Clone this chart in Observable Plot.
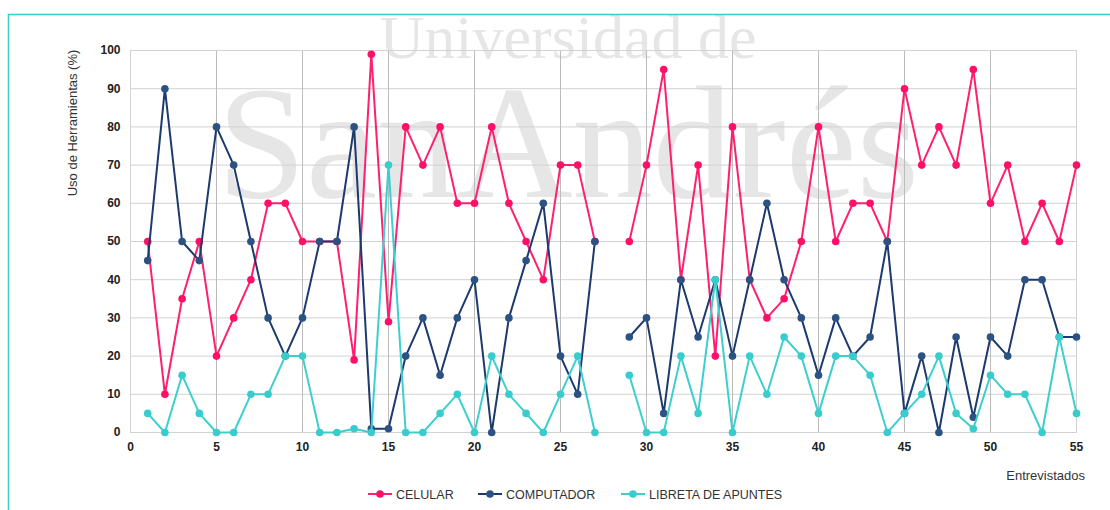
<!DOCTYPE html>
<html>
<head>
<meta charset="utf-8">
<script src="https://cdn.jsdelivr.net/npm/d3@7"></script>
<script src="https://cdn.jsdelivr.net/npm/@observablehq/plot@0.6"></script>
<style>
  html, body { margin: 0; padding: 0; background: #fff; }
  #chart { width: 1110px; height: 510px; overflow: hidden; }
</style>
</head>
<body>
<div id="chart"></div>
<script>
// Entrevistados 1..55 (entrevistado 28 sin datos)
const entrevistados = d3.range(1, 56);
const celular = [50,10,35,50,20,30,40,60,60,50, 50,50,19,99,29,80,70,80,60,60, 80,60,50,40,70,70,50,null,50,70, 95,40,70,20,80,40,30,35,50,80, 50,60,60,50,90,70,80,70,95,60, 70,50,60,50,70];
const computador = [45,90,50,45,80,70,50,30,20,30, 50,50,80,1,1,20,30,15,30,40, 0,30,45,60,20,10,50,null,25,30, 5,40,25,40,20,40,60,40,30,15, 30,20,25,50,5,20,0,25,4,25, 20,40,40,25,25];
const libreta = [5,0,15,5,0,0,10,10,20,20, 0,0,1,0,70,0,0,5,10,0, 20,10,5,0,10,20,0,null,15,0, 0,20,5,40,0,20,10,25,20,5, 20,20,15,0,5,10,20,5,1,15, 10,10,0,25,5];
const seriesNames = ["CELULAR", "COMPUTADOR", "LIBRETA DE APUNTES"];
const seriesValues = [celular, computador, libreta];
const yTicks = d3.range(0, 101, 10);
const xTicks = d3.range(0, 56, 5);

const lineColors = ["#ff1f6e", "#1c3a6e", "#3dcfcf"];
const dotColors  = ["#ff1068", "#2b5282", "#38cccc"];

const rows = seriesNames.map((name, s) =>
  entrevistados.map((x, i) => ({serie: name, x, y: seriesValues[s][i]}))
);

const W = 1110, H = 510;
const marks = [
  Plot.gridY(yTicks, {stroke: "#d2d2d2", strokeOpacity: 1, strokeWidth: 1}),
  Plot.gridX(xTicks, {stroke: "#bcbcbc", strokeOpacity: 1, strokeWidth: 1}),
  Plot.frame({stroke: "#d2d2d2", strokeWidth: 1}),
  Plot.axisY(yTicks, {tickSize: 0, tickPadding: 10, fontWeight: "bold", fontSize: 12, fill: "#222", label: null}),
  Plot.axisX(xTicks, {tickSize: 0, tickPadding: 10, fontWeight: "bold", fontSize: 12, fill: "#222", label: null})
];
rows.forEach((data, s) => {
  marks.push(Plot.line(data, {x: "x", y: "y", stroke: lineColors[s], strokeWidth: 2}));
  marks.push(Plot.dot(data.filter(d => d.y != null), {x: "x", y: "y", r: 3.8, fill: dotColors[s], stroke: "none"}));
});

const plot = Plot.plot({
  width: W,
  height: H,
  marginLeft: 130,
  marginRight: 34,
  marginTop: 50,
  marginBottom: 78,
  x: {domain: [0, 55]},
  y: {domain: [0, 100]},
  style: {fontFamily: "'Liberation Sans', Arial, sans-serif", fontSize: "12px", background: "#fff", overflow: "visible"},
  marks
});

const svg = d3.select(plot);

// watermark (behind everything)
const wm = svg.insert("g", ":first-child").attr("font-family", "'Liberation Serif', 'DejaVu Serif', serif").attr("fill", "#e6e6e6").attr("text-anchor", "middle");
wm.append("text").attr("x", 568).attr("y", 58).attr("font-size", 62).text("Universidad de");
wm.append("text").attr("x", 568).attr("y", 197).attr("font-size", 160).text("SanAndrés");

// outer teal frame
svg.append("path").attr("d", "M8.5,510 V14.5 H1110").attr("fill", "none").attr("stroke", "#3cc9c9").attr("stroke-width", 1.5);

// axis titles
svg.append("text").attr("transform", "translate(77,123) rotate(-90)").attr("text-anchor", "middle")
  .attr("font-size", 13).attr("fill", "#333").text("Uso de Herramientas (%)");
svg.append("text").attr("x", 1085).attr("y", 480).attr("text-anchor", "end")
  .attr("font-size", 13).attr("fill", "#333").text("Entrevistados");

// legend
const legendX = [368, 478, 621];
const lg = svg.append("g").attr("font-size", 12.5).attr("fill", "#333").attr("text-anchor", "start");
seriesNames.forEach((name, s) => {
  const g = lg.append("g").attr("transform", `translate(${legendX[s]},494)`);
  g.append("line").attr("x1", 0).attr("x2", 24).attr("y1", 0).attr("y2", 0).attr("stroke", lineColors[s]).attr("stroke-width", 2);
  g.append("circle").attr("cx", 12).attr("cy", 0).attr("r", 3.8).attr("fill", dotColors[s]);
  g.append("text").attr("x", 28).attr("y", 4.5).attr("text-anchor", "start").text(name);
});

document.getElementById("chart").appendChild(plot);
</script>
</body>
</html>
